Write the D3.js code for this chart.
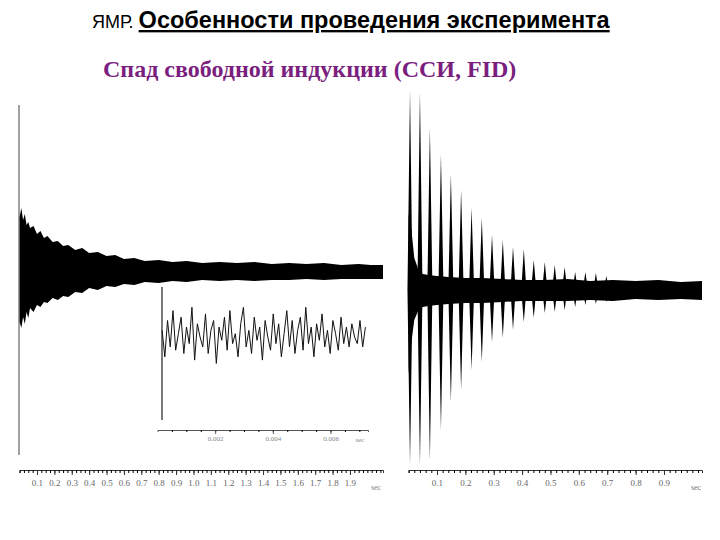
<!DOCTYPE html>
<html><head><meta charset="utf-8">
<script src="https://cdn.jsdelivr.net/npm/d3@7"></script>
<style>body{margin:0;background:#fff}svg{display:block}</style></head>
<body><svg id="c" width="720" height="540"></svg>
<script>
// ---- data ----
const leftTicks = [0.1,0.2,0.3,0.4,0.5,0.6,0.7,0.8,0.9,1.0,1.1,1.2,1.3,1.4,1.5,1.6,1.7,1.8,1.9];
const leftTickLabels = ["0.1","0.2","0.3","0.4","0.5","0.6","0.7","0.8","0.9","1.0","1.1","1.2","1.3","1.4","1.5","1.6","1.7","1.8","1.9"];
const leftEnvT  = [0.00,0.01,0.02,0.03,0.04,0.05,0.06,0.08,0.10,0.12,0.14,0.16,0.19,0.22,0.25,0.28,0.32,0.36,0.40,0.45,0.50,0.55,0.60,0.66,0.72,0.80,0.88,0.96,1.05,1.15,1.25,1.35,1.45,1.55,1.65,1.75,1.85,1.95,2.02,2.09];
const leftEnvUp = [0.55,0.64,0.52,0.58,0.47,0.50,0.44,0.46,0.38,0.41,0.34,0.36,0.30,0.31,0.26,0.27,0.22,0.24,0.19,0.20,0.16,0.17,0.13,0.14,0.11,0.12,0.10,0.11,0.09,0.10,0.09,0.10,0.08,0.09,0.08,0.09,0.07,0.08,0.07,0.07];
const leftEnvLo = [-0.50,-0.56,-0.45,-0.52,-0.40,-0.46,-0.36,-0.40,-0.33,-0.35,-0.30,-0.31,-0.26,-0.28,-0.24,-0.25,-0.20,-0.21,-0.16,-0.18,-0.14,-0.15,-0.12,-0.13,-0.10,-0.11,-0.09,-0.10,-0.08,-0.09,-0.08,-0.09,-0.08,-0.08,-0.07,-0.08,-0.07,-0.07,-0.07,-0.07];
const insetTicks = [0.002,0.004,0.006];
const insetTickLabels = ["0.002","0.004","0.006"];
const insetSignal = [0.2,-0.6,0.5,-0.3,0.8,-0.4,0.1,0.6,-0.5,0.3,-0.2,0.9,-0.7,0.4,0.0,-0.3,0.7,-0.5,0.2,0.5,-0.8,0.3,-0.1,0.6,-0.4,0.8,-0.2,0.1,-0.6,0.4,0.9,-0.3,0.2,-0.5,0.6,-0.1,0.3,-0.7,0.5,0.0,-0.4,0.7,-0.2,0.4,-0.6,0.1,0.8,-0.3,0.5,-0.5,0.2,0.6,-0.4,0.9,-0.2,0.3,-0.6,0.4,-0.1,0.7,-0.3,0.2,-0.5,0.5,0.1,-0.4,0.6,-0.2,0.3,-0.3,0.4,0.0,-0.2,0.5,-0.3,0.3];
const rightTicks = [0.1,0.2,0.3,0.4,0.5,0.6,0.7,0.8,0.9];
const rightTickLabels = ["0.1","0.2","0.3","0.4","0.5","0.6","0.7","0.8","0.9"];
const spikeT  = [0.005,0.040,0.075,0.114,0.149,0.185,0.222,0.258,0.294,0.332,0.368,0.406,0.441,0.480,0.515,0.550,0.587,0.623,0.660,0.697];
const spikeUp = [1.00,0.99,0.81,0.68,0.58,0.50,0.41,0.36,0.275,0.25,0.215,0.205,0.15,0.14,0.125,0.115,0.09,0.09,0.085,0.07];
const spikeLo = [-0.875,-0.875,-0.85,-0.70,-0.56,-0.50,-0.40,-0.36,-0.26,-0.24,-0.20,-0.16,-0.14,-0.115,-0.11,-0.10,-0.085,-0.075,-0.07,-0.06];
const bandT  = [0.000,0.010,0.020,0.035,0.050,0.070,0.100,0.140,0.200,0.260,0.330,0.400,0.480,0.560,0.640,0.720,0.800,0.880,0.960,1.034];
const bandUp = [0.38,0.30,0.16,0.10,0.08,0.075,0.07,0.065,0.06,0.06,0.055,0.05,0.05,0.055,0.045,0.05,0.045,0.05,0.04,0.045];
const bandLo = [-0.42,-0.26,-0.15,-0.10,-0.085,-0.08,-0.075,-0.07,-0.065,-0.065,-0.06,-0.055,-0.055,-0.055,-0.05,-0.055,-0.045,-0.05,-0.045,-0.05];

// ---- drawing ----
const svg = d3.select("#c");
const labelFont = "'Liberation Serif', serif";

const t1 = svg.append("text").attr("x",92).attr("y",28).attr("font-family","'Liberation Sans',Arial,sans-serif");
t1.append("tspan").attr("font-size",18).text("ЯМР. ");
t1.append("tspan").attr("font-size",23.5).attr("font-weight","bold").attr("text-decoration","underline").text("Особенности проведения эксперимента");
svg.append("text").attr("x",103).attr("y",77).attr("font-family",labelFont).attr("font-size",24)
  .attr("font-weight","bold").attr("fill","#7b1f7f").text("Спад свободной индукции (ССИ, FID)");

// left panel
const xL = d3.scaleLinear([0,2.09],[19.6,383]);
const yL = d3.scaleLinear([-1,1],[372,172]);
svg.append("line").attr("x1",19).attr("x2",19).attr("y1",105).attr("y2",455).attr("stroke","#444").attr("stroke-width",1);
svg.append("path").datum(leftEnvT.map((t,i)=>[t,leftEnvUp[i],leftEnvLo[i]]))
  .attr("d",d3.area().x(d=>xL(d[0])).y0(d=>yL(d[2])).y1(d=>yL(d[1])))
  .attr("fill","#000");
const gL = svg.append("g").attr("transform","translate(0,470)");
gL.call(d3.axisBottom(xL).tickValues(d3.range(0,2.09,0.025)).tickSize(3).tickFormat("")).call(g=>g.select(".domain").attr("stroke","#333"));
gL.append("g").call(d3.axisBottom(xL).tickValues(leftTicks).tickSize(5).tickFormat((d,i)=>leftTickLabels[i]))
  .call(g=>{g.select(".domain").remove();g.selectAll("text").attr("font-family",labelFont).attr("font-size",9).attr("fill","#666").attr("dy","0.9em");g.selectAll("line").attr("stroke","#333");});
svg.append("text").attr("x",376).attr("y",490).attr("font-family",labelFont).attr("font-size",8).attr("fill","#888").attr("text-anchor","middle").text("sec");

// inset
const xI = d3.scaleLinear([0,0.0073],[157.5,368]);
const yI = d3.scaleLinear([-1,1],[370,304]);
svg.append("line").attr("x1",162).attr("x2",162).attr("y1",287).attr("y2",420).attr("stroke","#222").attr("stroke-width",1.2);
svg.append("path").datum(insetSignal)
  .attr("d",d3.line().x((d,i)=>xI(0.00016+i*(0.00705/(insetSignal.length-1)))).y(d=>yI(d)))
  .attr("fill","none").attr("stroke","#111").attr("stroke-width",1);
const gI = svg.append("g").attr("transform","translate(0,430)");
gI.call(d3.axisBottom(xI).tickValues(d3.range(0.0005,0.0073,0.0005)).tickSize(2).tickFormat("")).call(g=>g.select(".domain").attr("stroke","#555"));
gI.append("g").call(d3.axisBottom(xI).tickValues(insetTicks).tickSize(4).tickFormat((d,i)=>insetTickLabels[i]))
  .call(g=>{g.select(".domain").remove();g.selectAll("text").attr("font-family",labelFont).attr("font-size",7).attr("fill","#888").attr("dy","0.6em");g.selectAll("line").attr("stroke","#555");});
svg.append("text").attr("x",360).attr("y",442).attr("font-family",labelFont).attr("font-size",7).attr("fill","#888").attr("text-anchor","middle").text("sec");

// right panel
const xR = d3.scaleLinear([0,1.034],[408.6,702]);
const yR = d3.scaleLinear([-1,1],[490,90]);
svg.append("path").datum(bandT.map((t,i)=>[t,bandUp[i],bandLo[i]]))
  .attr("d",d3.area().x(d=>xR(d[0])).y0(d=>yR(d[2])).y1(d=>yR(d[1])))
  .attr("fill","#000");
const hw = 0.009;
svg.append("g").selectAll("path").data(spikeT.map((t,i)=>[t,spikeUp[i],spikeLo[i]])).join("path")
  .attr("d",d=>`M${xR(d[0]-hw)},${yR(0)}L${xR(d[0])},${yR(d[1])}L${xR(d[0]+hw)},${yR(0)}L${xR(d[0])},${yR(d[2])}Z`)
  .attr("fill","#000");
const gR = svg.append("g").attr("transform","translate(0,470)");
gR.call(d3.axisBottom(xR).tickValues(d3.range(0,1.034,0.02)).tickSize(3).tickFormat("")).call(g=>g.select(".domain").attr("stroke","#333"));
gR.append("g").call(d3.axisBottom(xR).tickValues(rightTicks).tickSize(5).tickFormat((d,i)=>rightTickLabels[i]))
  .call(g=>{g.select(".domain").remove();g.selectAll("text").attr("font-family",labelFont).attr("font-size",9).attr("fill","#666").attr("dy","0.9em");g.selectAll("line").attr("stroke","#333");});
svg.append("text").attr("x",696).attr("y",490).attr("font-family",labelFont).attr("font-size",8).attr("fill","#777").attr("text-anchor","middle").text("sec");
</script></body></html>
